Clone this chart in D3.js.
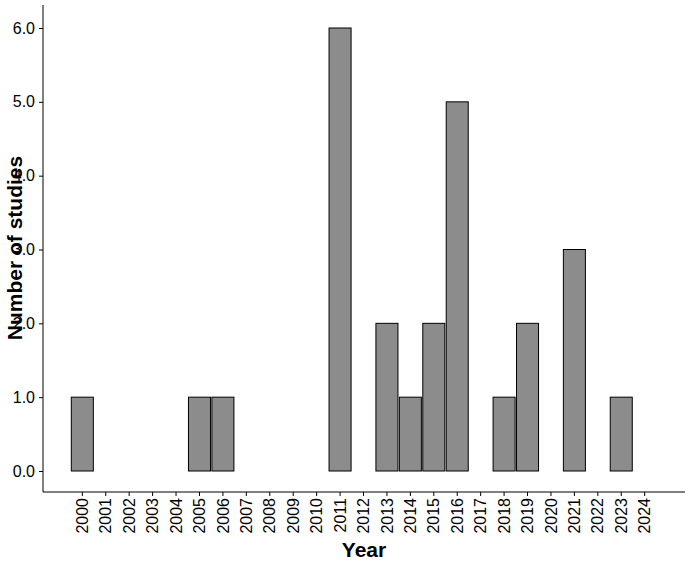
<!DOCTYPE html>
<html><head><meta charset="utf-8">
<script src="https://cdn.jsdelivr.net/npm/d3@7"></script>
<style>body{margin:0;background:#fff}</style></head>
<body><svg id="c" width="690" height="567"></svg>
<script>
const years = ["2000","2001","2002","2003","2004","2005","2006","2007","2008","2009","2010","2011","2012","2013","2014","2015","2016","2017","2018","2019","2020","2021","2022","2023","2024"];
const counts = [1,0,0,0,0,1,1,0,0,0,0,6,0,2,1,2,5,0,1,2,0,3,0,1,0];
const yTicks = [0,1,2,3,4,5,6];

const svg = d3.select("#c");
const x = d3.scaleBand().domain(years).range([71.3,655.7]).paddingInner(0.06);
const y = d3.scaleLinear().domain([0,6]).range([471,28]);
const font = "Liberation Sans, Arial, sans-serif";

svg.selectAll("rect.bar").data(years).enter().append("rect")
  .attr("x", d=>x(d)).attr("width", x.bandwidth())
  .attr("y", (d,i)=>y(counts[i])).attr("height", (d,i)=>y(0)-y(counts[i]))
  .attr("fill","#8c8c8c").attr("stroke","#000").attr("stroke-width",1);

// axes lines
svg.append("line").attr("x1",43).attr("x2",43).attr("y1",5).attr("y2",492).attr("stroke","#000");
svg.append("line").attr("x1",43).attr("x2",685).attr("y1",492).attr("y2",492).attr("stroke","#000");

const ya = svg.append("g").attr("transform","translate(43,0)").call(d3.axisLeft(y).tickValues(yTicks).tickSize(4).tickPadding(4));
ya.select(".domain").remove();
ya.selectAll("text").attr("font-family",font).attr("font-size",16).attr("fill","#000");

const xa = svg.append("g").attr("transform","translate(0,492)").call(d3.axisBottom(x).tickSize(4).tickPadding(4));
xa.select(".domain").remove();
xa.selectAll("text").attr("font-family",font).attr("font-size",16).attr("fill","#000")
  .attr("transform","rotate(-90)").attr("text-anchor","end").attr("dx","-6").attr("dy","-0.5em").attr("x",0).attr("y",0)
  .attr("dy","0.35em");

svg.append("text").attr("x",364).attr("y",557).attr("text-anchor","middle")
  .attr("font-family",font).attr("font-size",21).attr("font-weight","bold").text("Year");
svg.append("text").attr("transform","translate(22,248) rotate(-90)").attr("text-anchor","middle")
  .attr("font-family",font).attr("font-size",21).attr("font-weight","bold").text("Number of studies");
</script></body></html>
